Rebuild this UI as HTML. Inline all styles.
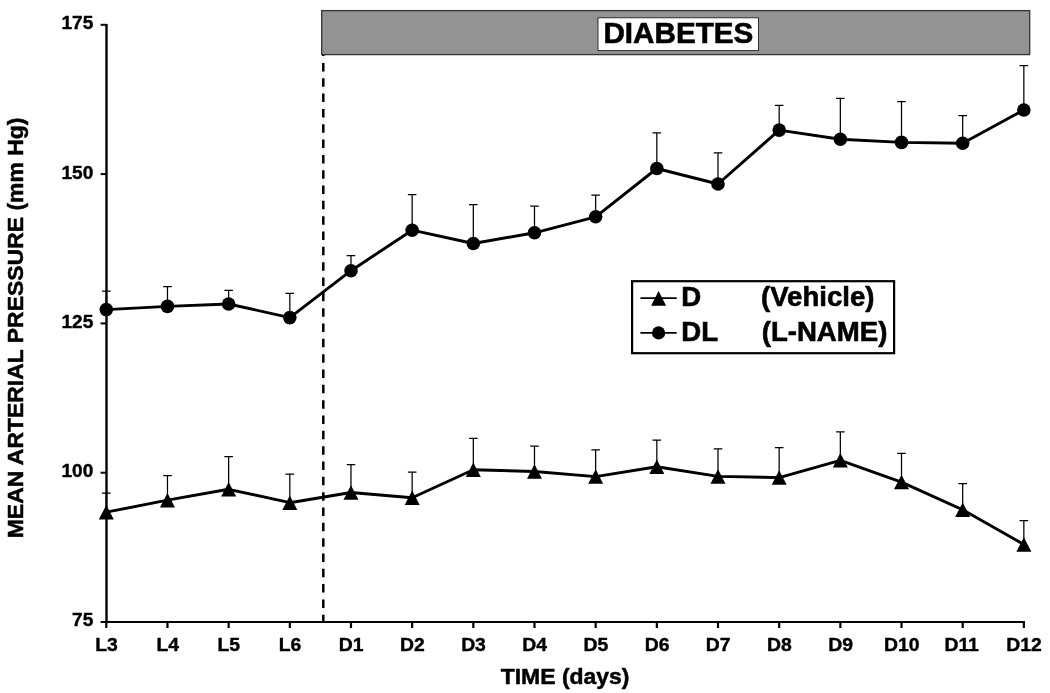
<!DOCTYPE html>
<html lang="en"><head><meta charset="utf-8"><title>Mean arterial pressure</title>
<style>html,body{margin:0;padding:0;background:#fff;}body{width:1050px;height:693px;overflow:hidden;}svg{display:block;}text{font-family:'Liberation Sans', Arial, Helvetica, sans-serif;font-weight:bold;fill:#000;}</style></head><body>
<svg width="1050" height="693" viewBox="0 0 1050 693">
<rect x="0" y="0" width="1050" height="693" fill="#fff"/>
<line x1="323.6" y1="56" x2="323.6" y2="621" stroke="#ededed" stroke-width="1"/>
<line x1="323.3" y1="47.57" x2="323.3" y2="621" stroke="#000" stroke-width="2.5" stroke-dasharray="8.5 6.83"/>
<rect x="321.7" y="10.6" width="708" height="44" fill="#939393" stroke="#333" stroke-width="1.3"/>
<rect x="598" y="17.8" width="160.5" height="32.8" fill="#fff" stroke="#222" stroke-width="0.9"/>
<text transform="translate(678.40 42.80) scale(1.0060 1)" font-size="29.50" text-anchor="middle" stroke="#000" stroke-width="0.60" stroke-linejoin="round">DIABETES</text>
<g stroke="#000" stroke-width="2.2" fill="none">
<line x1="106.50" y1="24" x2="106.50" y2="623.10" stroke-width="2.4"/>
<line x1="105.40" y1="622.00" x2="1024.95" y2="622.00"/>
<line x1="106.30" y1="622.00" x2="106.30" y2="628"/>
<line x1="167.47" y1="622.00" x2="167.47" y2="628"/>
<line x1="228.64" y1="622.00" x2="228.64" y2="628"/>
<line x1="289.81" y1="622.00" x2="289.81" y2="628"/>
<line x1="350.98" y1="622.00" x2="350.98" y2="628"/>
<line x1="412.15" y1="622.00" x2="412.15" y2="628"/>
<line x1="473.32" y1="622.00" x2="473.32" y2="628"/>
<line x1="534.49" y1="622.00" x2="534.49" y2="628"/>
<line x1="595.66" y1="622.00" x2="595.66" y2="628"/>
<line x1="656.83" y1="622.00" x2="656.83" y2="628"/>
<line x1="718.00" y1="622.00" x2="718.00" y2="628"/>
<line x1="779.17" y1="622.00" x2="779.17" y2="628"/>
<line x1="840.34" y1="622.00" x2="840.34" y2="628"/>
<line x1="901.51" y1="622.00" x2="901.51" y2="628"/>
<line x1="962.68" y1="622.00" x2="962.68" y2="628"/>
<line x1="1023.85" y1="622.00" x2="1023.85" y2="628"/>
</g>
<g stroke="#000" stroke-width="2" fill="none">
<line x1="100.6" y1="24.80" x2="106.50" y2="24.80"/>
<line x1="100.6" y1="174.10" x2="106.50" y2="174.10"/>
<line x1="100.6" y1="323.40" x2="106.50" y2="323.40"/>
<line x1="100.6" y1="472.70" x2="106.50" y2="472.70"/>
<line x1="100.6" y1="622.00" x2="106.50" y2="622.00"/>
</g>
<text transform="translate(93.30 29.20) scale(1.0200 1)" font-size="18.70" text-anchor="end" stroke="#000" stroke-width="0.40" stroke-linejoin="round">175</text>
<text transform="translate(93.30 178.50) scale(1.0200 1)" font-size="18.70" text-anchor="end" stroke="#000" stroke-width="0.40" stroke-linejoin="round">150</text>
<text transform="translate(93.30 327.80) scale(1.0200 1)" font-size="18.70" text-anchor="end" stroke="#000" stroke-width="0.40" stroke-linejoin="round">125</text>
<text transform="translate(93.30 477.10) scale(1.0200 1)" font-size="18.70" text-anchor="end" stroke="#000" stroke-width="0.40" stroke-linejoin="round">100</text>
<text transform="translate(93.30 626.40) scale(1.0200 1)" font-size="18.70" text-anchor="end" stroke="#000" stroke-width="0.40" stroke-linejoin="round">75</text>
<text transform="translate(106.50 651.10) scale(1.0350 1)" font-size="18.70" text-anchor="middle" stroke="#000" stroke-width="0.40" stroke-linejoin="round">L3</text>
<text transform="translate(167.67 651.10) scale(1.0350 1)" font-size="18.70" text-anchor="middle" stroke="#000" stroke-width="0.40" stroke-linejoin="round">L4</text>
<text transform="translate(228.84 651.10) scale(1.0350 1)" font-size="18.70" text-anchor="middle" stroke="#000" stroke-width="0.40" stroke-linejoin="round">L5</text>
<text transform="translate(290.01 651.10) scale(1.0350 1)" font-size="18.70" text-anchor="middle" stroke="#000" stroke-width="0.40" stroke-linejoin="round">L6</text>
<text transform="translate(351.18 651.10) scale(1.0350 1)" font-size="18.70" text-anchor="middle" stroke="#000" stroke-width="0.40" stroke-linejoin="round">D1</text>
<text transform="translate(412.35 651.10) scale(1.0350 1)" font-size="18.70" text-anchor="middle" stroke="#000" stroke-width="0.40" stroke-linejoin="round">D2</text>
<text transform="translate(473.52 651.10) scale(1.0350 1)" font-size="18.70" text-anchor="middle" stroke="#000" stroke-width="0.40" stroke-linejoin="round">D3</text>
<text transform="translate(534.69 651.10) scale(1.0350 1)" font-size="18.70" text-anchor="middle" stroke="#000" stroke-width="0.40" stroke-linejoin="round">D4</text>
<text transform="translate(595.86 651.10) scale(1.0350 1)" font-size="18.70" text-anchor="middle" stroke="#000" stroke-width="0.40" stroke-linejoin="round">D5</text>
<text transform="translate(657.03 651.10) scale(1.0350 1)" font-size="18.70" text-anchor="middle" stroke="#000" stroke-width="0.40" stroke-linejoin="round">D6</text>
<text transform="translate(718.20 651.10) scale(1.0350 1)" font-size="18.70" text-anchor="middle" stroke="#000" stroke-width="0.40" stroke-linejoin="round">D7</text>
<text transform="translate(779.37 651.10) scale(1.0350 1)" font-size="18.70" text-anchor="middle" stroke="#000" stroke-width="0.40" stroke-linejoin="round">D8</text>
<text transform="translate(840.54 651.10) scale(1.0350 1)" font-size="18.70" text-anchor="middle" stroke="#000" stroke-width="0.40" stroke-linejoin="round">D9</text>
<text transform="translate(901.71 651.10) scale(1.0350 1)" font-size="18.70" text-anchor="middle" stroke="#000" stroke-width="0.40" stroke-linejoin="round">D10</text>
<text transform="translate(961.68 651.10) scale(1.0350 1)" font-size="18.70" text-anchor="middle" stroke="#000" stroke-width="0.40" stroke-linejoin="round">D11</text>
<text transform="translate(1024.05 651.10) scale(1.0350 1)" font-size="18.70" text-anchor="middle" stroke="#000" stroke-width="0.40" stroke-linejoin="round">D12</text>
<text transform="translate(565.10 684.20) scale(1.0160 1)" font-size="22.60" text-anchor="middle" stroke="#000" stroke-width="0.50" stroke-linejoin="round">TIME (days)</text>
<text transform="translate(22.80 327.90) rotate(-90) scale(1.0160 1)" font-size="22.60" text-anchor="middle" stroke="#000" stroke-width="0.50" stroke-linejoin="round">MEAN ARTERIAL PRESSURE (mm Hg)</text>
<g stroke="#000" stroke-width="1.25" fill="none">
<path d="M106.30 309.60V291.20M102.00 291.20H110.60"/>
<path d="M167.47 306.40V286.60M163.17 286.60H171.77"/>
<path d="M228.64 304.00V290.40M224.34 290.40H232.94"/>
<path d="M289.81 317.60V293.40M285.51 293.40H294.11"/>
<path d="M350.98 270.70V255.50M346.68 255.50H355.28"/>
<path d="M412.15 230.20V194.50M407.85 194.50H416.45"/>
<path d="M473.32 243.50V204.50M469.02 204.50H477.62"/>
<path d="M534.49 232.80V206.10M530.19 206.10H538.79"/>
<path d="M595.66 216.80V195.20M591.36 195.20H599.96"/>
<path d="M656.83 168.50V132.80M652.53 132.80H661.13"/>
<path d="M718.00 184.00V152.80M713.70 152.80H722.30"/>
<path d="M779.17 130.10V105.30M774.87 105.30H783.47"/>
<path d="M840.34 139.30V98.30M836.04 98.30H844.64"/>
<path d="M901.51 142.40V101.70M897.21 101.70H905.81"/>
<path d="M962.68 143.30V115.70M958.38 115.70H966.98"/>
<path d="M1023.85 110.00V65.50M1019.55 65.50H1028.15"/>
<path d="M106.30 512.20V493.10M102.00 493.10H110.60"/>
<path d="M167.47 500.20V475.50M163.17 475.50H171.77"/>
<path d="M228.64 489.30V456.50M224.34 456.50H232.94"/>
<path d="M289.81 502.70V474.10M285.51 474.10H294.11"/>
<path d="M350.98 492.50V464.50M346.68 464.50H355.28"/>
<path d="M412.15 497.80V472.10M407.85 472.10H416.45"/>
<path d="M473.32 469.70V438.30M469.02 438.30H477.62"/>
<path d="M534.49 471.50V446.00M530.19 446.00H538.79"/>
<path d="M595.66 476.60V449.80M591.36 449.80H599.96"/>
<path d="M656.83 466.70V440.20M652.53 440.20H661.13"/>
<path d="M718.00 476.40V448.90M713.70 448.90H722.30"/>
<path d="M779.17 477.60V447.70M774.87 447.70H783.47"/>
<path d="M840.34 460.30V431.80M836.04 431.80H844.64"/>
<path d="M901.51 482.10V453.30M897.21 453.30H905.81"/>
<path d="M962.68 509.80V483.60M958.38 483.60H966.98"/>
<path d="M1023.85 544.40V520.50M1019.55 520.50H1028.15"/>
</g>
<polyline points="106.30,309.60 167.47,306.40 228.64,304.00 289.81,317.60 350.98,270.70 412.15,230.20 473.32,243.50 534.49,232.80 595.66,216.80 656.83,168.50 718.00,184.00 779.17,130.10 840.34,139.30 901.51,142.40 962.68,143.30 1023.85,110.00" fill="none" stroke="#000" stroke-width="2.9" stroke-linejoin="round"/>
<polyline points="106.30,512.20 167.47,500.20 228.64,489.30 289.81,502.70 350.98,492.50 412.15,497.80 473.32,469.70 534.49,471.50 595.66,476.60 656.83,466.70 718.00,476.40 779.17,477.60 840.34,460.30 901.51,482.10 962.68,509.80 1023.85,544.40" fill="none" stroke="#000" stroke-width="2.9" stroke-linejoin="round"/>
<g fill="#000">
<circle cx="106.30" cy="309.60" r="6.8"/>
<circle cx="167.47" cy="306.40" r="6.8"/>
<circle cx="228.64" cy="304.00" r="6.8"/>
<circle cx="289.81" cy="317.60" r="6.8"/>
<circle cx="350.98" cy="270.70" r="6.8"/>
<circle cx="412.15" cy="230.20" r="6.8"/>
<circle cx="473.32" cy="243.50" r="6.8"/>
<circle cx="534.49" cy="232.80" r="6.8"/>
<circle cx="595.66" cy="216.80" r="6.8"/>
<circle cx="656.83" cy="168.50" r="6.8"/>
<circle cx="718.00" cy="184.00" r="6.8"/>
<circle cx="779.17" cy="130.10" r="6.8"/>
<circle cx="840.34" cy="139.30" r="6.8"/>
<circle cx="901.51" cy="142.40" r="6.8"/>
<circle cx="962.68" cy="143.30" r="6.8"/>
<circle cx="1023.85" cy="110.00" r="6.8"/>
<path d="M106.30 504.95L113.80 519.45H98.80Z"/>
<path d="M167.47 492.95L174.97 507.45H159.97Z"/>
<path d="M228.64 482.05L236.14 496.55H221.14Z"/>
<path d="M289.81 495.45L297.31 509.95H282.31Z"/>
<path d="M350.98 485.25L358.48 499.75H343.48Z"/>
<path d="M412.15 490.55L419.65 505.05H404.65Z"/>
<path d="M473.32 462.45L480.82 476.95H465.82Z"/>
<path d="M534.49 464.25L541.99 478.75H526.99Z"/>
<path d="M595.66 469.35L603.16 483.85H588.16Z"/>
<path d="M656.83 459.45L664.33 473.95H649.33Z"/>
<path d="M718.00 469.15L725.50 483.65H710.50Z"/>
<path d="M779.17 470.35L786.67 484.85H771.67Z"/>
<path d="M840.34 453.05L847.84 467.55H832.84Z"/>
<path d="M901.51 474.85L909.01 489.35H894.01Z"/>
<path d="M962.68 502.55L970.18 517.05H955.18Z"/>
<path d="M1023.85 537.15L1031.35 551.65H1016.35Z"/>
</g>
<rect x="632.1" y="281.2" width="262" height="72" fill="#fff" stroke="#000" stroke-width="2.2"/>
<line x1="640.4" y1="298.2" x2="676.7" y2="298.2" stroke="#000" stroke-width="1.7"/>
<line x1="640.4" y1="332.9" x2="676.7" y2="332.9" stroke="#000" stroke-width="1.7"/>
<path d="M658.6 291L666.1 305.7H651.1Z" fill="#000"/>
<circle cx="658.6" cy="332.9" r="6.6" fill="#000"/>
<text transform="translate(681.20 306.20) scale(1.0150 1)" font-size="27.20" text-anchor="start" stroke="#000" stroke-width="0.60" stroke-linejoin="round">D</text>
<text transform="translate(761.00 306.20) scale(1.0150 1)" font-size="27.20" text-anchor="start" stroke="#000" stroke-width="0.60" stroke-linejoin="round">(Vehicle)</text>
<text transform="translate(681.20 340.80) scale(1.0150 1)" font-size="27.20" text-anchor="start" stroke="#000" stroke-width="0.60" stroke-linejoin="round">DL</text>
<text transform="translate(761.70 340.80) scale(1.0150 1)" font-size="27.20" text-anchor="start" stroke="#000" stroke-width="0.60" stroke-linejoin="round">(L-NAME)</text>
</svg></body></html>
